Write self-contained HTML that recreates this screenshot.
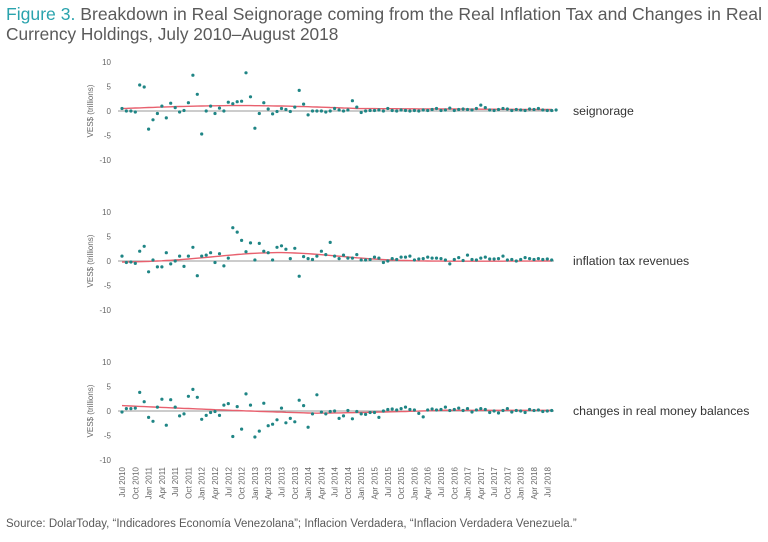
<!DOCTYPE html>
<html><head><meta charset="utf-8"><style>
body{margin:0;background:#fff;width:768px;height:537px;overflow:hidden;font-family:"Liberation Sans",sans-serif}
</style></head><body>
<svg id="s" width="768" height="537" xmlns="http://www.w3.org/2000/svg" font-family="Liberation Sans, sans-serif">
<text x="6" y="20" font-size="17.3" fill="#5a5a5a" textLength="756" lengthAdjust="spacingAndGlyphs"><tspan fill="#2aa3ad">Figure 3.</tspan> Breakdown in Real Seignorage coming from the Real Inflation Tax and Changes in Real</text>
<text x="6" y="40" font-size="17.3" fill="#5a5a5a">Currency Holdings, July 2010–August 2018</text>
<text x="6" y="527" font-size="11.5" fill="#5a5a5a">Source: DolarToday, “Indicadores Economía Venezolana”; Inflacion Verdadera, “Inflacion Verdadera Venezuela.”</text>
<g id="g"></g>
</svg>
<script>
const g=document.getElementById('g');let h='';
const x0=122,dx=4.43;
const p1=[0.5,0,0,-0.2,5.3,4.9,-3.7,-1.8,-0.5,1,-1.4,1.6,0.7,-0.2,0.1,1.7,7.3,3.4,-4.7,0,1,-0.5,0.6,0,1.8,1.5,1.9,2,7.8,2.9,-3.5,-0.5,1.7,0.4,-0.6,-0.1,0.5,0.3,-0.1,0.8,4.2,1.4,-0.8,0,0,0,-0.2,0,0.5,0.2,0,0.2,2.1,0.8,-0.3,0,0.1,0.1,0.2,0,0.5,0.1,0,0.2,0.1,0,0.1,0,0.2,0.1,0.3,0.5,0.1,0.2,0.6,0.1,0.3,0.4,0.3,0.2,0.5,1.2,0.7,0.2,0.1,0.3,0.5,0.4,0.1,0.3,0.2,0.1,0.4,0.3,0.5,0.2,0.1,0.1,0.2];
const p2=[1,-0.3,-0.2,-0.5,2,3,-2.2,0.2,-1.2,-1.2,1.7,-0.6,0,1,-1.1,1,2.8,-3,1,1.2,1.7,-0.3,1.5,-1,0.6,6.8,5.9,4.2,1.9,3.7,0.2,3.6,2,1.7,0.2,2.8,3.1,2.4,0.5,2.6,-3.1,0.9,0.5,0.3,1,2,1.3,3.8,1,0.5,1.2,0.6,0.6,1.3,0.2,0.2,0.3,0.8,0.6,-0.3,0,0.5,0.3,0.8,0.8,1,0.2,0.4,0.5,0.8,0.6,0.6,0.5,0.2,-0.6,0.3,0.7,0.1,1.2,0.3,0.2,0.6,0.8,0.4,0.4,0.5,1,0.2,0.3,0,0.3,0.7,0.5,0.3,0.5,0.3,0.4,0.2];
const p3=[-0.2,0.5,0.5,0.6,3.8,1.9,-1.3,-2.1,0.8,2.4,-2.9,2.3,0.8,-1,-0.6,3,4.4,2.8,-1.7,-0.9,-0.3,-0.1,-0.9,1.2,1.5,-5.2,0.9,-3.7,3.5,1.2,-5.3,-4.1,1.6,-3,-2.7,-1.8,0.6,-2.4,-1.5,-2.2,2.2,1.1,-3.3,-0.6,3.3,-0.2,-0.6,-0.1,0,-1.5,-1,0.1,-1.6,-0.1,-0.6,-0.7,-0.3,-0.3,-1.3,0,0.3,0.4,0.2,0.5,0.8,0.3,0.2,-0.5,-1.2,0.2,0.4,0.2,0.3,0.8,0.1,0.3,0.6,0.1,0.5,-0.2,0.2,0.5,0.3,-0.3,0,-0.4,0.1,0.5,-0.2,0.1,0,-0.3,0.3,0.1,0.2,-0.1,0,0.1];
function trend(pts,y0){let d='';for(let i=0;i<98;i++){const t=i/97;let v=pts(t);d+=(i?'L':'M')+(x0+i*dx).toFixed(1)+','+(y0-v*4.9).toFixed(1);}return `<path d="${d}" fill="none" stroke="#e8606e" stroke-width="1.4"/>`;}
const tr=[t=>0.5+0.6*Math.sin(Math.PI*Math.min(t/0.55,1))-0.2*Math.max(0,t-0.55)/0.45,
t=>-0.3+1.9*Math.exp(-Math.pow((t-0.36)/0.2,2))+0.3*t,
t=>1.1-2*Math.sin(Math.PI*Math.min(t/0.8,1)*0.5)+(t>0.45?1.9*Math.min((t-0.45)/0.3,1):0)*0.55];
const panels=[[111,p1,'seignorage'],[261,p2,'inflation tax revenues'],[411,p3,'changes in real money balances']];
panels.forEach((P,k)=>{const y0=P[0];
 [10,5,0,-5,-10].forEach(v=>{h+=`<text x="111" y="${y0-v*4.9+3}" font-size="8" fill="#666" text-anchor="end">${v}</text>`});
 h+=`<text transform="translate(93,${y0}) rotate(-90)" font-size="8" fill="#666" text-anchor="middle">VES$ (trillions)</text>`;
 h+=`<line x1="118" x2="554" y1="${y0}" y2="${y0}" stroke="#999" stroke-width="1"/>`;
 h+=trend(tr[k],y0);
 P[1].forEach((v,i)=>{h+=`<circle cx="${(x0+i*dx).toFixed(1)}" cy="${(y0-v*4.9).toFixed(1)}" r="1.6" fill="#1f8585"/>`});
 h+=`<text x="573" y="${y0+4}" font-size="12.3" fill="#333">${P[2]}</text>`;
});
const mo=['Jul','Oct','Jan','Apr'];
for(let i=0;i<33;i++){const m=i*3;const yr=2010+Math.floor((m+6)/12);const lab=mo[i%4]+' '+yr;
 h+=`<text transform="translate(${(x0+m*dx+3).toFixed(1)},467) rotate(-90)" font-size="8" fill="#666" text-anchor="end">${lab}</text>`;}
g.innerHTML=h;
</script>
</body></html>
